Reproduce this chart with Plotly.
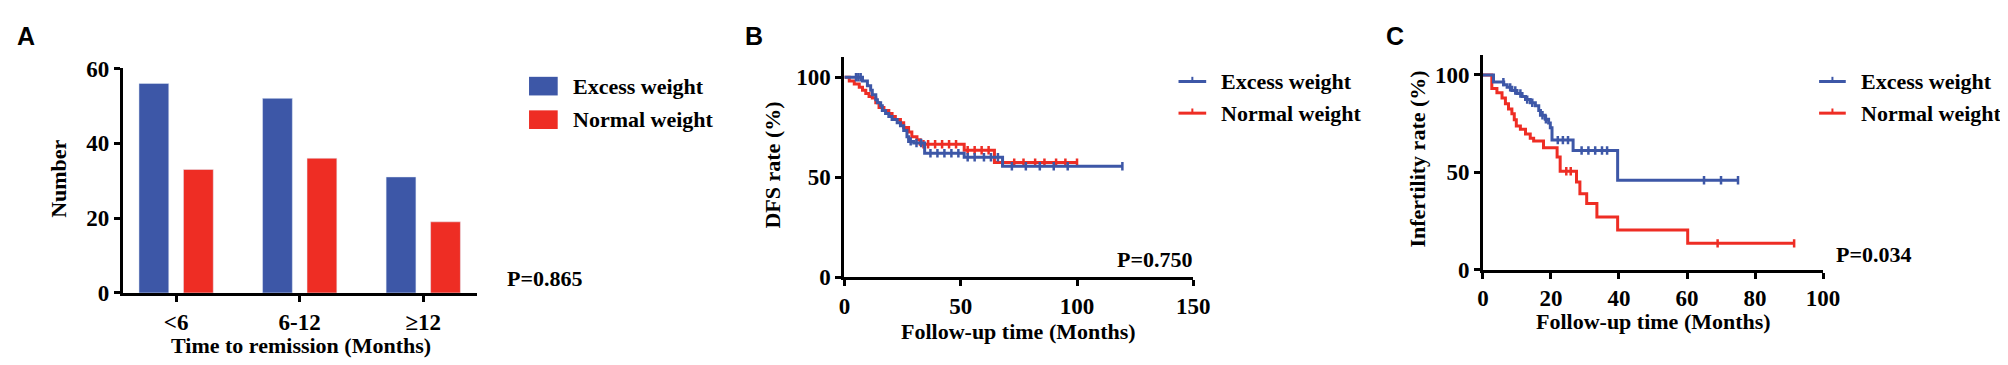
import numpy as np
import plotly.graph_objects as go

W, H = 2008, 365
BLUE = "#3D57A7"
RED = "#EE2D24"
SERIF = "Liberation Serif"
SANS = "Liberation Sans"

# ---------------- Data ----------------
# Panel A
categories = ["<6", "6-12", "≥12"]
excess_counts = [56, 52, 31]
normal_counts = [33, 36, 19]

# Panel B: DFS (Kaplan-Meier step points)
b_excess_t = [0, 7.8, 9.9, 11.3, 12.0, 13.5, 14.2, 15.6, 16.3, 17.7, 19.1, 20.5, 22.7, 24.1,
              25.5, 26.9, 27.6, 29.8, 34.5, 51.5, 68.0, 119.5]
b_excess_s = [100, 98.1, 95.8, 93.5, 91.2, 88.8, 87.3, 85.7, 83.4, 81.9, 80.3, 78.8, 77.2, 75.7,
              73.4, 70.2, 67.9, 67.1, 62.0, 60.0, 55.5, 55.5]
b_normal_t = [0, 2.1, 4.25, 6.4, 7.8, 9.2, 10.6, 12.0, 13.5, 14.9, 17.0, 19.1, 20.5, 21.9,
              24.1, 25.5, 27.6, 29.0, 31.2, 32.6, 51.5, 64.5, 100]
b_normal_s = [100, 98.1, 96.6, 95.0, 93.5, 91.9, 90.4, 89.6, 87.3, 84.9, 83.4, 81.9, 80.3, 78.8,
              77.2, 74.9, 72.6, 70.2, 68.7, 66.5, 63.5, 57.3, 57.3]
b_excess_cens = [5, 6, 7, 28.5, 31, 33, 37, 40, 43, 46, 49, 53, 56, 60, 63, 66,
                 72, 78, 84, 90, 96, 119.5]
b_normal_cens = [34, 36, 39, 42, 45, 48, 53, 56, 59, 62, 68, 73, 77, 82, 86, 91, 95, 100]

# Panel C: infertility (Kaplan-Meier step points)
c_excess_t = [0, 3.1, 6.1, 7.1, 8.5, 10, 11.5, 12.5, 13.9, 15.4, 16.4, 16.9, 18.3, 19.3,
              19.8, 20.3, 26.5, 39.6, 75]
c_excess_s = [100, 96.3, 94.9, 93.6, 92, 90.4, 88.9, 87.3, 85.7, 84.1, 81.7, 79.3, 77.2, 75.3,
              72.9, 66.5, 61.2, 45.9, 45.9]
c_normal_t = [0, 2.6, 4.1, 5.6, 6.6, 7.5, 8.5, 9.2, 9.8, 11, 12.5, 13.9, 14.9, 17.8,
              21.8, 22.7, 27.5, 28.5, 30.5, 33.5, 39.6, 60.2, 91.5]
c_normal_s = [100, 93, 90.8, 88.1, 85.2, 82.5, 80.1, 76.9, 73.7, 72.1, 69.7, 67.4, 66, 62.6,
              57.8, 50.5, 45, 39, 34, 27, 20.4, 13.5, 13.5]
c_excess_cens = [6, 8, 9.5, 11, 13, 14.5, 17.5, 18.5, 22, 23.5, 25, 29, 31, 33, 35, 36.5,
                 65, 70, 75]
c_normal_cens = [24.5, 25.8, 69, 91.5]

legend_names = ["Excess weight", "Normal weight"]
p_values = ["P=0.865", "P=0.750", "P=0.034"]


def step_at(t, s, ct):
    t = np.asarray(t, float)
    s = np.asarray(s, float)
    idx = np.searchsorted(t, np.asarray(ct, float), side="right") - 1
    return s[np.clip(idx, 0, len(s) - 1)]


def px(x):
    return x / W


def py(y):
    return 1 - y / H


fig = go.Figure()

# Panel A bars
fig.add_trace(go.Bar(x=categories, y=excess_counts, marker_color=BLUE, name=legend_names[0],
                     xaxis="x", yaxis="y", showlegend=False))
fig.add_trace(go.Bar(x=categories, y=normal_counts, marker_color=RED, name=legend_names[1],
                     xaxis="x", yaxis="y", showlegend=False))

# KM curves
for (ax, ay, t, s, cens, col, nm) in [
    ("x2", "y2", b_normal_t, b_normal_s, b_normal_cens, RED, legend_names[1]),
    ("x2", "y2", b_excess_t, b_excess_s, b_excess_cens, BLUE, legend_names[0]),
    ("x3", "y3", c_normal_t, c_normal_s, c_normal_cens, RED, legend_names[1]),
    ("x3", "y3", c_excess_t, c_excess_s, c_excess_cens, BLUE, legend_names[0]),
]:
    fig.add_trace(go.Scatter(x=t, y=s, mode="lines", line=dict(color=col, width=3, shape="hv"),
                             name=nm, xaxis=ax, yaxis=ay, showlegend=False))
    fig.add_trace(go.Scatter(x=cens, y=step_at(t, s, cens), mode="markers",
                             marker=dict(symbol="line-ns", size=6, line=dict(color=col, width=2.5)),
                             name=nm, xaxis=ax, yaxis=ay, showlegend=False))

TICKFONT = dict(family=SERIF, size=23, color="black", weight="bold")
axis_style = dict(showline=True, linewidth=3, linecolor="black", ticks="outside", ticklen=6,
                  tickwidth=3, tickcolor="black", showgrid=False, zeroline=False,
                  tickfont=TICKFONT, fixedrange=True)

fig.update_layout(
    width=W, height=H, margin=dict(l=0, r=0, t=0, b=0),
    paper_bgcolor="white", plot_bgcolor="white",
    barmode="group", bargap=0.28, bargroupgap=0.33,
    showlegend=False,
    xaxis=dict(domain=[px(110), px(468)], anchor="y", type="category",
               range=[-0.432, 2.432], **axis_style),
    yaxis=dict(domain=[py(293), py(52)], anchor="x", range=[0, 60],
               tickvals=[0, 20, 40, 60], **axis_style),
    xaxis2=dict(domain=[px(840), px(1193)], anchor="y2", range=[0, 150],
                tickvals=[0, 50, 100, 150], **axis_style),
    yaxis2=dict(domain=[py(276), py(40)], anchor="x2", range=[0, 110],
                tickvals=[0, 50, 100], **axis_style),
    xaxis3=dict(domain=[px(1486), px(1830)], anchor="y3", range=[0, 100],
                tickvals=[0, 20, 40, 60, 80, 100], **axis_style),
    yaxis3=dict(domain=[py(268), py(38)], anchor="x3", range=[0, 110],
                tickvals=[0, 50, 100], **axis_style),
)

TXT = dict(family=SERIF, size=22, color="black", weight="bold")
annotations = []


def ann(text, x, y, xanchor="center", font=TXT, angle=0):
    annotations.append(dict(text=text, x=px(x), y=py(y), xref="paper", yref="paper",
                            xanchor=xanchor, yanchor="middle", showarrow=False,
                            font=font, textangle=angle))


PANEL = dict(family=SANS, size=25, color="black", weight="bold")
ann("A", 1, 17, "left", PANEL)
ann("B", 737, 17, "left", PANEL)
ann("C", 1386, 17, "left", PANEL)

ann("Number", 45, 170, angle=-90)
ann("Time to remission (Months)", 290, 349)
ann("DFS rate (%)", 767, 156, angle=-90)
ann("Follow-up time (Months)", 1016, 334)
ann("Infertility rate (%)", 1420, 149, angle=-90)
ann("Follow-up time (Months)", 1658, 324)

ann(p_values[0], 497, 278, "left")
ann(p_values[1], 1194, 257, "right")
ann(p_values[2], 1841, 252, "left")

# Legends
shapes = []
for i, (col, yc) in enumerate([(BLUE, 71), (RED, 107)]):
    shapes.append(dict(type="rect", xref="paper", yref="paper", x0=px(521), x1=px(550),
                       y0=py(yc - 10), y1=py(yc + 10), fillcolor=col, line=dict(width=0)))
    ann(legend_names[i], 563, yc, "left")
for x0, x1, xt in [(1178, 1206, 1219), (1826, 1853, 1866)]:
    for i, (col, yc) in enumerate([(BLUE, 66), (RED, 100)]):
        shapes.append(dict(type="line", xref="paper", yref="paper", x0=px(x0), x1=px(x1),
                           y0=py(yc), y1=py(yc), line=dict(color=col, width=3)))
        xm = (x0 + x1) / 2
        shapes.append(dict(type="line", xref="paper", yref="paper", x0=px(xm), x1=px(xm),
                           y0=py(yc), y1=py(yc - 5), line=dict(color=col, width=2)))
        ann(legend_names[i], xt, yc, "left")

fig.update_layout(annotations=annotations, shapes=shapes)
fig.write_html("out.html")
